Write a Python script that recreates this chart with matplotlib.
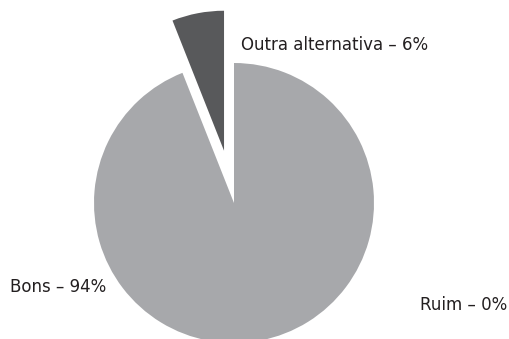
import matplotlib.pyplot as plt

# ── Data ──────────────────────────────────────────────────────────────────────
categories = ["Bons", "Outra alternativa", "Ruim"]
shares = [94, 6, 0]
colors = ["#a7a8ab", "#58595b", "#a7a8ab"]
explode = [0, 0.38, 0]

# ── Layout (pixels) ───────────────────────────────────────────────────────────
W, H = 509, 339
CX, CY, R = 234, 203, 140   # pie centre (from top) and radius

fig = plt.figure(figsize=(W / 100, H / 100), dpi=100)
ax = fig.add_axes([0, 0, 1, 1])

ax.pie(shares, colors=colors, explode=explode, startangle=90,
       counterclock=False, radius=1,
       wedgeprops={"linewidth": 0})
ax.set_xlim(-CX / R, (W - CX) / R)
ax.set_ylim(-(H - CY) / R, CY / R)
ax.set_aspect("auto")
ax.axis("off")

labels = [f"{c} – {v}%" for c, v in zip(categories, shares)]
label_pos = {
    "Bons": (10, 287, "left"),
    "Outra alternativa": (241, 45, "left"),
    "Ruim": (507, 305, "right"),
}
for cat, lab in zip(categories, labels):
    x, y, ha = label_pos[cat]
    fig.text(x / W, 1 - y / H, lab, ha=ha, va="center",
             fontsize=12, color="#231f20", family="DejaVu Sans")

fig.savefig("out.png", dpi=100)
